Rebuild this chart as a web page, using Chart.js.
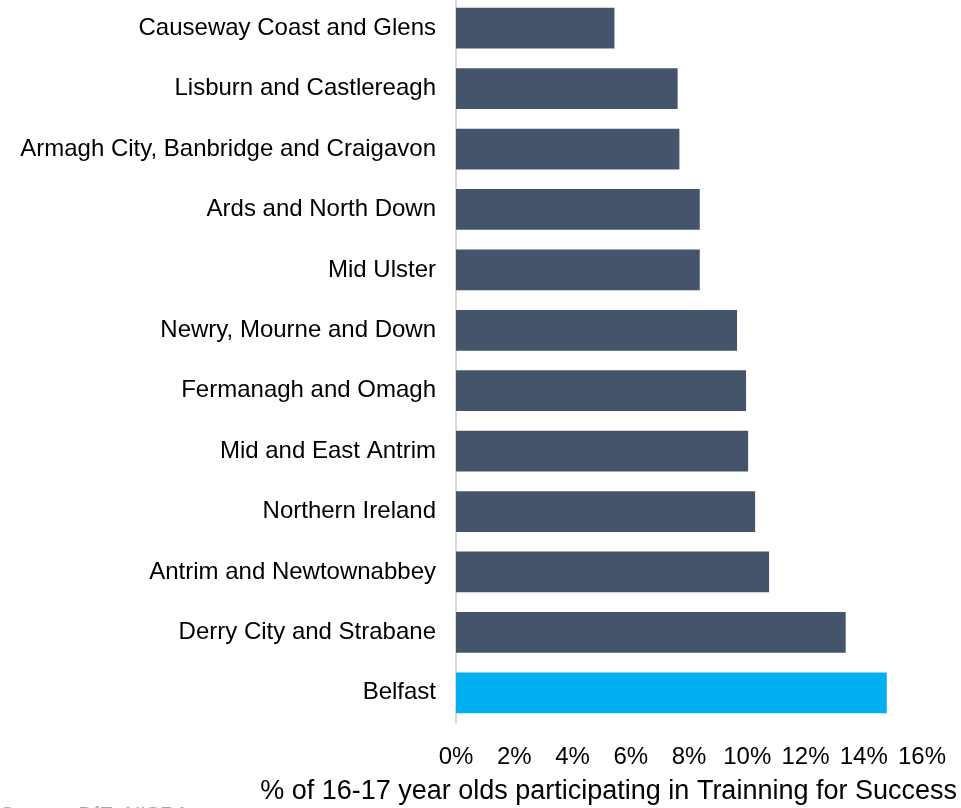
<!DOCTYPE html>
<html>
<head>
<meta charset="utf-8">
<script src="https://cdn.jsdelivr.net/npm/chart.js@4"></script>
<style>
  body { margin: 0; background: #fff; }
  #wrap { position: relative; width: 961px; height: 808px; overflow: hidden; }
  #bars { position: absolute; left: 0; top: -2px; }
  #source { position: absolute; left: 0; top: 803px; font: 21px/21px "Liberation Sans", Arial, sans-serif; color: #a6a6a6; white-space: nowrap; }
</style>
</head>
<body>
<div id="wrap">
  <canvas id="bars" width="961" height="810"></canvas>
  <div id="source">Source: DfE, NISRA</div>
</div>
<script>
const areas = [
    'Causeway Coast and Glens',
    'Lisburn and Castlereagh',
    'Armagh City, Banbridge and Craigavon',
    'Ards and North Down',
    'Mid Ulster',
    'Newry, Mourne and Down',
    'Fermanagh and Omagh',
    'Mid and East Antrim',
    'Northern Ireland',
    'Antrim and Newtownabbey',
    'Derry City and Strabane',
    'Belfast'
];
const shares = [5.44, 7.61, 7.67, 8.37, 8.37, 9.65, 9.96, 10.03, 10.27, 10.75, 13.38, 14.79];
const highlight = 'Belfast';
const xTicks = [0, 2, 4, 6, 8, 10, 12, 14, 16];
const axisTitle = '% of 16-17 year olds participating in Trainning for Success';

const fontFamily = '"Liberation Sans", Arial, sans-serif';

const barsEl = document.getElementById("bars");

const bars = new Chart(barsEl, {
    type: 'bar',
    data: {
        labels: areas,
        datasets: [{
            data: shares,
            backgroundColor: areas.map(a => a === highlight ? '#00b0f0' : '#44546a'),
            borderWidth: 0,
            barPercentage: 0.674,
            categoryPercentage: 1
        }]
    },
    options: {
        indexAxis: 'y',
        responsive: false,
        animation: false,
        layout: {
            padding: { left: 0, right: 4, top: 0, bottom: 0 }
        },
        scales: {
            x: {
                min: xTicks[0],
                max: xTicks[xTicks.length - 1],
                afterBuildTicks: axis => {
                    axis.ticks = xTicks.map(v => ({ value: v }));
                },
                // plot ends at x=922, the title runs on past it to the right
                afterFit: axis => {
                    axis.paddingLeft = 0;
                    axis.paddingRight = 39;
                    axis.height = 48.6;
                },
                grid: { display: false, drawTicks: false },
                border: { display: false },
                ticks: {
                    padding: 20,
                    color: '#000',
                    font: { family: fontFamily, size: 24 },
                    maxRotation: 0,
                    autoSkip: false,
                    callback: v => v + '%'
                }
            },
            y: {
                afterFit: axis => {
                    axis.width = 456;
                    axis.paddingTop = 0;
                    axis.paddingBottom = 0;
                },
                grid: { display: false, drawTicks: false },
                border: { display: true, color: '#d9d9d9', width: 2 },
                ticks: {
                    padding: 20,
                    color: '#000',
                    autoSkip: false,
                    font: { family: fontFamily, size: 24 }
                }
            }
        },
        plugins: {
            legend: { display: false },
            tooltip: { enabled: false },
            title: {
                display: true,
                position: 'bottom',
                align: 'end',
                text: axisTitle,
                color: '#000',
                font: { family: fontFamily, size: 27, weight: 'normal' },
                padding: { top: 4, bottom: 0 }
            }
        }
    }
});
</script>
</body>
</html>
